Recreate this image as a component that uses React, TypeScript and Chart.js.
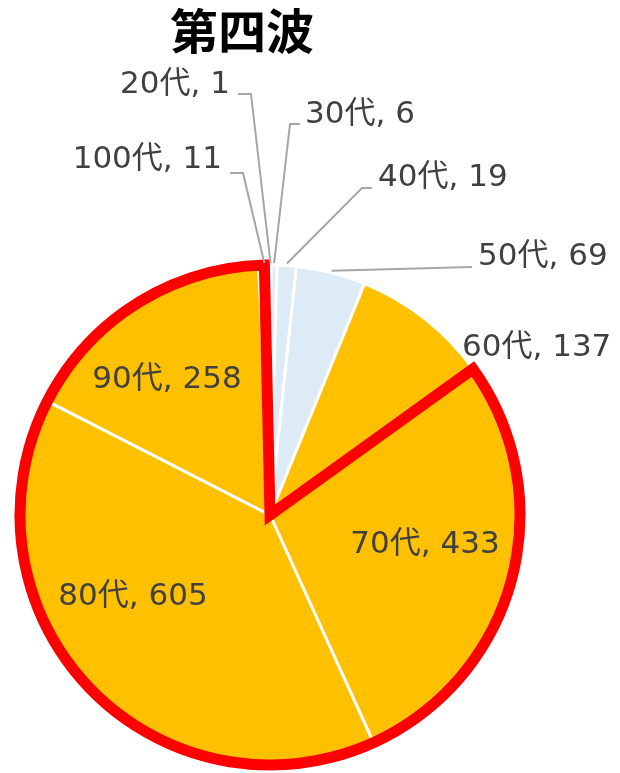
import { useEffect, useRef } from "react";
import { Chart, registerables } from "chart.js";

Chart.register(...registerables);

// ---- data ----
const title = "第四波";
const categories = ["20代", "30代", "40代", "50代", "60代", "70代", "80代", "90代", "100代"];
const deaths = [1, 6, 19, 69, 137, 433, 605, 258, 11];
const highlightFrom = "70代";
const highlightTo = "100代";

// ---- styles ----
const sliceColors = ["#DDEBF7", "#DDEBF7", "#DDEBF7", "#DDEBF7", "#FFC000", "#FFC000", "#FFC000", "#FFC000", "#FFC000"];
const labelColor = "#404040";
const leaderColor = "#A6A6A6";
const labelFont = "31px 'DejaVu Sans', 'Noto Sans CJK JP', sans-serif";
const titleFont = "bold 48px 'Noto Sans CJK JP', sans-serif";

// label layout: offsets (px) from pie centre; align of text; leader start / elbow offsets
type LabelLayout = { dx: number; dy: number; align: CanvasTextAlign; leader?: number[][] };
const labelLayout: LabelLayout[] = [
  { dx: -40, dy: -430, align: "right", leader: [[-32, -421], [-19, -421]] },
  { dx: 35, dy: -400, align: "left", leader: [[30, -391], [20, -391]] },
  { dx: 108, dy: -337, align: "left", leader: [[102, -327], [92, -327]] },
  { dx: 208, dy: -258, align: "left", leader: [[202, -248]] },
  { dx: 192, dy: -167, align: "left" },
  { dx: 155, dy: 30, align: "center" },
  { dx: -137, dy: 82, align: "center" },
  { dx: -103, dy: -135, align: "center" },
  { dx: -48, dy: -355, align: "right", leader: [[-40, -342], [-27, -342]] },
];

const overlayPlugin = {
  id: "overlay",
  afterDatasetsDraw(chart: any) {
    const ctx: CanvasRenderingContext2D = chart.ctx;
    const arcs = chart.getDatasetMeta(0).data;
    const p0 = arcs[0].getProps(["x", "y", "outerRadius"], true);
    const cx = p0.x, cy = p0.y, r = p0.outerRadius;

    // red outline around highlighted group
    const iFrom = categories.indexOf(highlightFrom);
    const iTo = categories.indexOf(highlightTo);
    const aFrom = arcs[iFrom].getProps(["startAngle"], true).startAngle;
    const pTo = arcs[iTo].getProps(["startAngle", "endAngle"], true);
    const aTo = (pTo.startAngle + pTo.endAngle) / 2;
    ctx.save();
    ctx.beginPath();
    ctx.moveTo(cx, cy);
    ctx.arc(cx, cy, r, aFrom, aTo);
    ctx.closePath();
    ctx.lineWidth = 11;
    ctx.strokeStyle = "#FF0000";
    ctx.lineJoin = "miter";
    ctx.stroke();
    ctx.restore();

    // leaders + labels
    ctx.save();
    ctx.font = labelFont;
    ctx.textBaseline = "middle";
    arcs.forEach((arc: any, i: number) => {
      const lay = labelLayout[i];
      const p = arc.getProps(["startAngle", "endAngle"], true);
      const mid = (p.startAngle + p.endAngle) / 2;
      if (lay.leader) {
        ctx.beginPath();
        ctx.strokeStyle = leaderColor;
        ctx.lineWidth = 2;
        lay.leader.forEach((pt, k) => {
          const x = cx + pt[0], y = cy + pt[1];
          if (k === 0) ctx.moveTo(x, y);
          else ctx.lineTo(x, y);
        });
        ctx.lineTo(cx + Math.cos(mid) * (r + 2), cy + Math.sin(mid) * (r + 2));
        ctx.stroke();
      }
      ctx.fillStyle = labelColor;
      ctx.textAlign = lay.align;
      ctx.fillText(`${categories[i]}, ${deaths[i]}`, cx + lay.dx, cy + lay.dy);
    });
    ctx.restore();

    // title
    ctx.save();
    ctx.font = titleFont;
    ctx.fillStyle = "#000000";
    ctx.textAlign = "center";
    ctx.textBaseline = "middle";
    ctx.fillText(title, cx - 28, 31);
    ctx.restore();
  },
};

export default function App() {
  const ref = useRef<HTMLCanvasElement | null>(null);
  useEffect(() => {
    if (!ref.current) return;
    const chart = new Chart(ref.current, {
      type: "pie",
      data: {
        labels: categories,
        datasets: [
          {
            data: deaths,
            backgroundColor: sliceColors,
            borderColor: "#FFFFFF",
            borderWidth: 3,
            hoverOffset: 0,
            radius: 250,
          } as any,
        ],
      },
      options: {
        responsive: false,
        animation: false,
        devicePixelRatio: 1,
        layout: { padding: { left: 10, right: 90, top: 260, bottom: 3 } },
        plugins: {
          legend: { display: false },
          title: { display: false },
          tooltip: { enabled: false },
        },
        events: [],
      },
      plugins: [overlayPlugin],
    });
    return () => chart.destroy();
  }, []);
  return (
    <div style={{ position: "fixed", left: 0, top: 0, width: 620, height: 773, background: "#fff" }}>
      <canvas ref={ref} width={620} height={773} style={{ display: "block" }} />
    </div>
  );
}
